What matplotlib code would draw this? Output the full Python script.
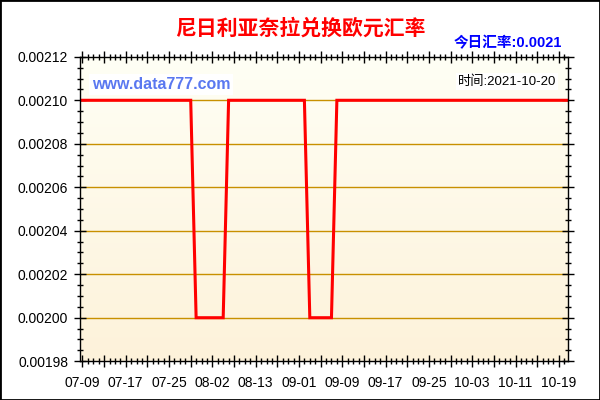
import matplotlib
matplotlib.use("Agg")
import matplotlib.pyplot as plt
import numpy as np
from matplotlib.ticker import MultipleLocator, FuncFormatter

plt.rcParams["font.family"] = ["Liberation Sans", "Noto Sans CJK SC", "DejaVu Sans"]

# daily rates, by data point index (0 = 07-09, last = 10-20)
high_rate = 0.0021
low_rate = 0.0020
low_spans = [(21, 26), (42, 46)]
n_points = 91
rates = [high_rate] * n_points
for a, b in low_spans:
    for i in range(a, b + 1):
        rates[i] = low_rate

tick_labels = ["07-09", "07-17", "07-25", "08-02", "08-13", "09-01",
               "09-09", "09-17", "09-25", "10-03", "10-11", "10-19"]
label_step = 8

title = "尼日利亚奈拉兑换欧元汇率"
today_text = "今日汇率:0.0021"
time_text = "时间:2021-10-20"
site_text = "www.data777.com"

fig = plt.figure(figsize=(6, 4), dpi=100)
fig.patch.set_facecolor("white")
fig.patches.append(plt.Rectangle((0, 0), 1, 1, transform=fig.transFigure, fill=False,
                                 edgecolor="black", linewidth=2, zorder=10))
ax = fig.add_axes([80 / 600, 1 - 361.2 / 400, 487.5 / 600, 304.4 / 400])

# background gradient of the plot area
grad = np.linspace(0, 1, 256).reshape(-1, 1)
top_c = np.array([255, 255, 245]) / 255
bot_c = np.array([253, 242, 218]) / 255
img = top_c * (1 - grad[..., None]) + bot_c * grad[..., None]
img = np.repeat(img, 2, axis=1)
ax.imshow(img, extent=[0, 1, 0, 1], transform=ax.transAxes, aspect="auto", zorder=0)

x = np.arange(n_points)
ax.plot(x, rates, color="#ff0000", linewidth=2.2, zorder=3, solid_joinstyle="miter")

ax.set_xlim(-0.45, 89.6)
ax.set_ylim(0.00198, 0.00212)

for gy in np.arange(0.00200, 0.002101, 0.00002):
    ax.axhline(gy, color="#c89000", linewidth=1, zorder=1)

ax.xaxis.set_major_locator(MultipleLocator(4))
ax.xaxis.set_minor_locator(MultipleLocator(1))
ax.xaxis.set_major_formatter(FuncFormatter(
    lambda v, p: tick_labels[int(round(v)) // label_step]
    if int(round(v)) % label_step == 0 and 0 <= int(round(v)) // label_step < len(tick_labels) else ""))
ax.yaxis.set_major_locator(MultipleLocator(0.00002))
ax.yaxis.set_minor_locator(MultipleLocator(0.000005))
ax.yaxis.set_major_formatter(FuncFormatter(lambda v, p: f"{v:.5f}"))

ax.tick_params(axis="both", which="major", direction="inout", length=9, width=1,
               labelsize=10, colors="black", top=True, right=True)
ax.tick_params(axis="both", which="minor", direction="inout", length=5, width=1,
               top=True, right=True)
ax.tick_params(axis="x", which="both", top=True, pad=6)
ax.tick_params(axis="y", which="both", pad=4)
for s in ax.spines.values():
    s.set_color("black")
    s.set_linewidth(1)
    s.set_zorder(4)

fig.text(0.5, 1 - 28.5 / 400, title, ha="center", va="center", fontsize=15,
         fontweight="bold", color="#ff0000")
fig.text(562 / 600, 1 - 42.7 / 400, today_text, ha="right", va="center", fontsize=10.5,
         fontweight="bold", color="#0000ff")
ax.text(556 / 600, 1 - 81.7 / 400, time_text, transform=fig.transFigure, ha="right",
        va="center", fontsize=9.5, color="black", zorder=5,
        bbox=dict(facecolor="white", edgecolor="none", pad=1.5))
ax.text(92 / 600, 1 - 84.3 / 400, site_text, transform=fig.transFigure, ha="left",
        va="center", fontsize=11.5, fontweight="bold", color="#5a78f0", zorder=5,
        bbox=dict(facecolor="white", edgecolor="none", pad=2))

fig.savefig("out.png", dpi=100)
